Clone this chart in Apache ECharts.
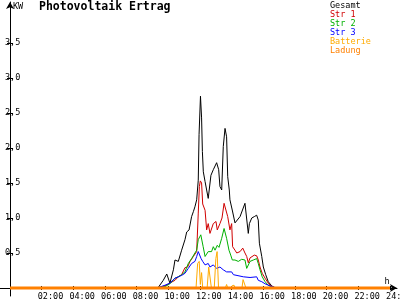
<!DOCTYPE html>
<html><head><meta charset="utf-8">
<script src="https://cdn.jsdelivr.net/npm/echarts@6/dist/echarts.min.js"></script>
<style>html,body{margin:0;padding:0;background:#fff}#c{width:400px;height:300px}</style>
</head><body><div id="c"></div>
<script>
const hourTicks = [2,4,6,8,10,12,14,16,18,20,22,24];
const kwTicks = [0.5,1.0,1.5,2.0,2.5,3.0,3.5];
const seriesNames = ['Gesamt','Str 1','Str 2','Str 3','Batterie','Ladung'];
const seriesColors = ['#000000','#d00000','#00b000','#0000ff','#ffaa00','#ff8000'];

const gesamt = [[9.2,0],[9.37,0.01],[9.68,0.11],[9.9,0.2],[10.1,0.07],[10.32,0.26],[10.42,0.4],[10.63,0.38],[10.84,0.54],[11.05,0.69],[11.16,0.8],[11.31,0.83],[11.47,1.02],[11.58,1.09],[11.68,1.16],[11.79,1.26],[11.89,1.54],[11.94,2.19],[12.03,2.74],[12.1,2.43],[12.15,1.95],[12.21,1.66],[12.32,1.52],[12.42,1.4],[12.52,1.28],[12.69,1.61],[12.84,1.69],[13.05,1.79],[13.18,1.69],[13.26,1.45],[13.37,1.4],[13.47,2.02],[13.58,2.28],[13.68,2.16],[13.75,1.59],[13.85,1.4],[13.89,1.26],[14.05,1.1],[14.21,0.93],[14.53,1.02],[14.84,1.21],[15.05,0.78],[15.12,0.92],[15.27,1.0],[15.43,1.02],[15.58,1.04],[15.68,0.97],[15.75,0.64],[15.9,0.45],[16.0,0.3],[16.15,0.19],[16.31,0.09],[16.53,0.03],[16.69,0.01],[16.8,0]];
const str1 = [[9.3,0],[9.79,0.03],[10.1,0.07],[10.42,0.11],[10.63,0.16],[10.84,0.19],[11.05,0.29],[11.22,0.3],[11.37,0.38],[11.58,0.45],[11.79,0.52],[11.89,1.07],[11.96,1.45],[12.02,1.53],[12.1,1.5],[12.17,1.2],[12.32,1.11],[12.42,0.83],[12.52,0.92],[12.63,0.78],[12.84,0.92],[13.01,0.95],[13.09,0.83],[13.26,0.92],[13.39,1.0],[13.52,1.21],[13.64,1.23],[13.75,1.02],[13.89,0.83],[14.0,0.92],[14.06,0.59],[14.21,0.54],[14.32,0.5],[14.53,0.52],[14.7,0.57],[14.84,0.5],[14.95,0.45],[15.05,0.36],[15.16,0.43],[15.43,0.47],[15.58,0.46],[15.68,0.4],[15.79,0.3],[15.93,0.21],[16.11,0.14],[16.31,0.07],[16.48,0.03],[16.63,0.01],[16.75,0]];
const str2 = [[9.3,0],[9.79,0.02],[10.1,0.06],[10.42,0.14],[10.63,0.16],[10.84,0.19],[11.05,0.23],[11.26,0.35],[11.47,0.42],[11.68,0.5],[11.79,0.54],[11.89,0.69],[11.98,0.73],[12.05,0.76],[12.2,0.59],[12.32,0.45],[12.52,0.52],[12.73,0.52],[12.84,0.59],[12.95,0.54],[13.09,0.61],[13.2,0.58],[13.37,0.71],[13.52,0.85],[13.62,0.83],[13.68,0.71],[13.83,0.54],[13.94,0.47],[14.04,0.4],[14.21,0.4],[14.42,0.38],[14.63,0.41],[14.84,0.4],[14.95,0.28],[15.05,0.3],[15.16,0.38],[15.37,0.4],[15.58,0.42],[15.68,0.35],[15.79,0.26],[15.93,0.16],[16.11,0.09],[16.31,0.04],[16.53,0.01],[16.65,0]];
const str3 = [[9.3,0],[9.37,0.01],[9.79,0.04],[10.1,0.07],[10.42,0.14],[10.63,0.16],[10.84,0.18],[11.05,0.21],[11.26,0.28],[11.47,0.35],[11.68,0.38],[11.79,0.45],[11.89,0.52],[11.96,0.54],[12.07,0.42],[12.17,0.38],[12.32,0.33],[12.52,0.35],[12.63,0.3],[12.84,0.33],[13.05,0.28],[13.26,0.3],[13.47,0.26],[13.68,0.23],[14.0,0.23],[14.11,0.19],[14.74,0.16],[15.16,0.15],[15.58,0.16],[15.68,0.11],[15.9,0.09],[16.11,0.06],[16.42,0.03],[16.69,0.01],[16.8,0]];
const batterie = [[11.75,0],[11.85,0.35],[11.95,0.38],[12.02,0.05],[12.1,0.22],[12.17,0],[12.45,0],[12.55,0.3],[12.65,0.28],[12.72,0],[12.9,0],[13.0,0.42],[13.08,0.52],[13.17,0],[13.6,0],[13.68,0.05],[13.75,0],[13.95,0],[14.02,0.03],[14.15,0.04],[14.22,0],[14.65,0],[14.72,0.12],[14.82,0.14],[14.9,0]];
const ladung = [[0,0],[24,0]];

const seriesData = [gesamt, str1, str2, str3, batterie, ladung];
const FONT = 'DejaVu Sans Mono';
const xMin = -0.6316, xMax = 24.442, yMin = -0.1143, yMax = 4.0857;
const labelShift = 0.25; // hours: the hour labels start slightly left of their tick

function hourLabel(v){ const h = Math.round(v); return (h < 10 ? '0' : '') + h + ':00'; }
function kwLabel(v){ return v.toFixed(1).replace('.', ','); }

const chart = echarts.init(document.getElementById('c'), null, {renderer:'canvas'});
const baseX = {
  type:'value', min:xMin, max:xMax, position:'bottom',
  splitLine:{show:false}
};
const baseY = {
  type:'value', min:yMin, max:yMax, position:'left',
  splitLine:{show:false}
};
chart.setOption({
  animation:false,
  backgroundColor:'#fff',
  title:{text:'Photovoltaik Ertrag', left:39, top:1, padding:0,
    textStyle:{fontFamily:FONT, fontWeight:'bold', fontSize:11.5, color:'#000'}},
  legend:{orient:'vertical', left:325, top:1, padding:0, itemGap:0, itemWidth:0, itemHeight:0,
    selectedMode:false,
    textStyle:{fontFamily:FONT, fontSize:8.5, lineHeight:8.3},
    data: seriesNames.map((n,i)=>({name:n, icon:'rect', textStyle:{color:seriesColors[i]}}))},
  grid:{left:0, right:3, top:2, bottom:4, containLabel:false, outerBoundsMode:'none'},
  xAxis:[
    Object.assign({}, baseX, {
      axisLine:{onZero:true, onZeroAxisIndex:0, symbol:['none','arrow'], symbolSize:[6,7], lineStyle:{color:'#000', width:1}},
      axisTick:{show:true, customValues:hourTicks, length:2, lineStyle:{color:'#000'}},
      axisLabel:{show:false},
      name:'h', nameLocation:'end', nameGap:-10,
      nameTextStyle:{fontFamily:FONT, fontSize:8.5, color:'#000', align:'center', verticalAlign:'bottom', padding:[0,0,2,0]}
    }),
    Object.assign({}, baseX, {
      axisLine:{onZero:true, onZeroAxisIndex:0, show:true, lineStyle:{color:'#000', opacity:0}},
      axisTick:{show:true, inside:true, customValues:hourTicks, length:2, lineStyle:{color:'#000'}},
      axisLabel:{show:false}
    }),
    Object.assign({}, baseX, {
      min:xMin + labelShift, max:xMax + labelShift,
      offset:-8,
      axisLine:{onZero:false, show:false},
      axisTick:{show:false},
      axisLabel:{show:true, customValues:hourTicks, formatter:hourLabel, margin:4, align:'left',
        showMinLabel:true, showMaxLabel:true, hideOverlap:false,
        fontFamily:FONT, fontSize:8.5, color:'#000'}
    })
  ],
  yAxis:[
    Object.assign({}, baseY, {
      axisLine:{onZero:true, onZeroAxisIndex:0, symbol:['none','arrow'], symbolSize:[6,7], lineStyle:{color:'#000', width:1}},
      axisTick:{show:true, customValues:kwTicks, length:3, lineStyle:{color:'#000'}},
      axisLabel:{show:true, inside:true, customValues:kwTicks, formatter:kwLabel, margin:5,
        showMinLabel:true, showMaxLabel:true,
        fontFamily:FONT, fontSize:8.5, color:'#000'},
      name:'KW', nameLocation:'end', nameGap:0,
      nameTextStyle:{fontFamily:FONT, fontSize:8.5, color:'#000', align:'left', verticalAlign:'top', padding:[0,0,0,3]}
    }),
    Object.assign({}, baseY, {
      axisLine:{onZero:true, onZeroAxisIndex:0, show:true, lineStyle:{color:'#000', opacity:0}},
      axisTick:{show:true, inside:true, customValues:kwTicks, length:3, lineStyle:{color:'#000'}},
      axisLabel:{show:false}
    })
  ],
  series: seriesNames.map((n,i)=>({
    name:n, type:'line', data:seriesData[i], symbol:'none', showSymbol:false,
    xAxisIndex:0, yAxisIndex:0,
    lineStyle:{color:seriesColors[i], width: n==='Ladung' ? 3 : 1},
    itemStyle:{color:seriesColors[i]},
    z: 2 + i
  }))
});
</script>
</body></html>
